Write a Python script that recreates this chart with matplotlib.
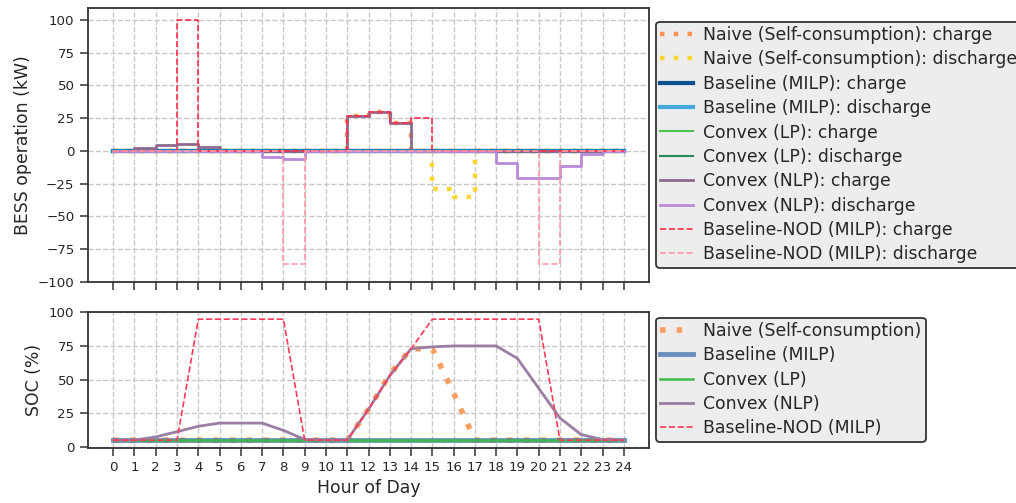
import numpy as np
import matplotlib
matplotlib.use("Agg")
import matplotlib.pyplot as plt

# ---------------- data ----------------
hours = list(range(25))  # 0..24
# hourly BESS power (kW), value for hour h applies to [h, h+1)
naive_charge = [0, 0, 0, 0, 0, 0, 0, 0, 0, 0, 0, 26.2, 29.3, 20.9, 0, 0, 0, 0, 0, 0, 0, 0, 0, 0]
naive_discharge = [0, 0, 0, 0, 0, 0, 0, 0, 0, 0, 0, 0, 0, 0, 0, -29.5, -35.3, 0, 0, 0, 0, 0, 0, 0]
baseline_charge = [0] * 24
baseline_discharge = [0] * 24
lp_charge = [0] * 24
lp_discharge = [0] * 24
nlp_charge = [0, 1.8, 4.1, 5.3, 3.1, 0, 0, 0, 0, 0, 0, 26.2, 29.3, 20.9, 0, 0, 0, 0, 0, 0, 0, 0, 0, 0]
nlp_discharge = [0, 0, 0, 0, 0, 0, 0, -4.8, -6.1, 0, 0, 0, 0, 0, 0, 0, 0, 0, -9.4, -21.1, -21.1, -12.0, -2.5, 0]
nod_charge = [0, 0, 0, 100, 0, 0, 0, 0, 0, 0, 0, 26.2, 29.3, 20.9, 24.9, 0, 0, 0, 0, 0, 0, 0, 0, 0]
nod_discharge = [0, 0, 0, 0, 0, 0, 0, 0, -86.3, 0, 0, 0, 0, 0, 0, 0, 0, 0, 0, 0, -86.3, 0, 0, 0]

# SOC (%) at hours 0..24
soc_naive = [5, 5, 5, 5, 5, 5, 5, 5, 5, 5, 5, 5, 28, 54, 73, 73, 40, 5, 5, 5, 5, 5, 5, 5, 5]
soc_baseline = [5] * 25
soc_lp = [5] * 25
soc_nlp = [5, 5, 7.4, 11.3, 15.3, 17.7, 17.7, 17.7, 12.3, 5.5, 5, 5, 28, 53, 73, 74.4, 75.1, 75.1, 75.1,
           65.8, 43.6, 21.4, 9.1, 5.5, 5]
soc_nod = [5, 5, 5, 5, 95, 95, 95, 95, 95, 5, 5, 5, 28, 53, 73, 95, 95, 95, 95, 95, 95, 5, 5, 5, 5]

top_labels = ["Naive (Self-consumption): charge", "Naive (Self-consumption): discharge",
              "Baseline (MILP): charge", "Baseline (MILP): discharge",
              "Convex (LP): charge", "Convex (LP): discharge",
              "Convex (NLP): charge", "Convex (NLP): discharge",
              "Baseline-NOD (MILP): charge", "Baseline-NOD (MILP): discharge"]
bottom_labels = ["Naive (Self-consumption)", "Baseline (MILP)", "Convex (LP)",
                 "Convex (NLP)", "Baseline-NOD (MILP)"]

# ---------------- style ----------------
plt.rcParams['font.family'] = ['DejaVu Sans']
TXT = '#262626'
fig = plt.figure(figsize=(10.16, 5.03), dpi=100)
ax1 = fig.add_axes([0.0863, 0.440, 0.5528, 0.5447])
ax2 = fig.add_axes([0.0863, 0.110, 0.5528, 0.2704], sharex=ax1)


def ext(v):
    return list(v) + [v[-1]]


top_series = [naive_charge, naive_discharge, baseline_charge, baseline_discharge,
              lp_charge, lp_discharge, nlp_charge, nlp_discharge, nod_charge, nod_discharge]
top_styles = [
    dict(color='#ff8a45', lw=3.2, ls=(0, (1, 2.1)), alpha=0.9),
    dict(color='#ffd21a', lw=3.2, ls=(0, (1, 2.1)), alpha=0.9),
    dict(color='#0b4f8f', lw=3),
    dict(color='#0a93d1', lw=3, alpha=0.75),
    dict(color='#4cc24c', lw=1.5),
    dict(color='#2a8a5e', lw=1.5),
    dict(color='#8e6a8e', lw=2),
    dict(color='#b98ad6', lw=2),
    dict(color='#ff2d4b', lw=1.2, ls='--'),
    dict(color='#ff9aa6', lw=1.2, ls='--'),
]
for vals, lab, st in zip(top_series, top_labels, top_styles):
    ax1.step(hours, ext(vals), where='post', label=lab, **st)

bottom_series = [soc_naive, soc_baseline, soc_lp, soc_nlp, soc_nod]
bottom_styles = [
    dict(color='#f9a060', lw=4, ls=(0, (1, 2.0))),
    dict(color='#4a78b0', lw=3.5, alpha=0.8),
    dict(color='#3db84a', lw=1.8),
    dict(color='#9a7ea4', lw=2),
    dict(color='#ff3a58', lw=1.2, ls='--'),
]
for vals, lab, st in zip(bottom_series, bottom_labels, bottom_styles):
    ax2.plot(hours, vals, label=lab, **st)

for ax in (ax1, ax2):
    ax.grid(True, ls='--', color='#c8c8c8', lw=1)
    ax.set_axisbelow(True)
    for s in ax.spines.values():
        s.set_color('#333333')
        s.set_linewidth(1.3)
    ax.tick_params(length=6, width=1.1, color='#333333', labelsize=9.6, labelcolor=TXT)

ax1.set_xticks(hours)
ax1.set_xlim(-1.2, 25.2)
ax1.set_ylim(-100, 109.3)
ax1.set_yticks([-100, -75, -50, -25, 0, 25, 50, 75, 100])
ax1.tick_params(axis='x', labelbottom=False)
ax2.set_ylim(-0.6, 100.6)
ax2.set_yticks([0, 25, 50, 75, 100])

ax1.set_ylabel('BESS operation (kW)', fontsize=12.4, color=TXT)
ax2.set_ylabel('SOC (%)', fontsize=12.4, color=TXT)
ax2.set_xlabel('Hour of Day', fontsize=12.4, color=TXT)

leg_kw = dict(loc='center left', fontsize=12.4, frameon=True, fancybox=True,
              facecolor='#ededed', edgecolor='#333333', framealpha=1,
              labelspacing=0.37, handlelength=1.9, handletextpad=0.58, borderpad=0.25,
              borderaxespad=0.0)
l1 = ax1.legend(bbox_to_anchor=(1.012, 0.5), **leg_kw)
l2 = ax2.legend(bbox_to_anchor=(1.012, 0.5), **leg_kw)
for l in (l1, l2):
    l.get_frame().set_linewidth(1.3)
    for t in l.get_texts():
        t.set_color(TXT)

fig.savefig('out.png', dpi=100)
